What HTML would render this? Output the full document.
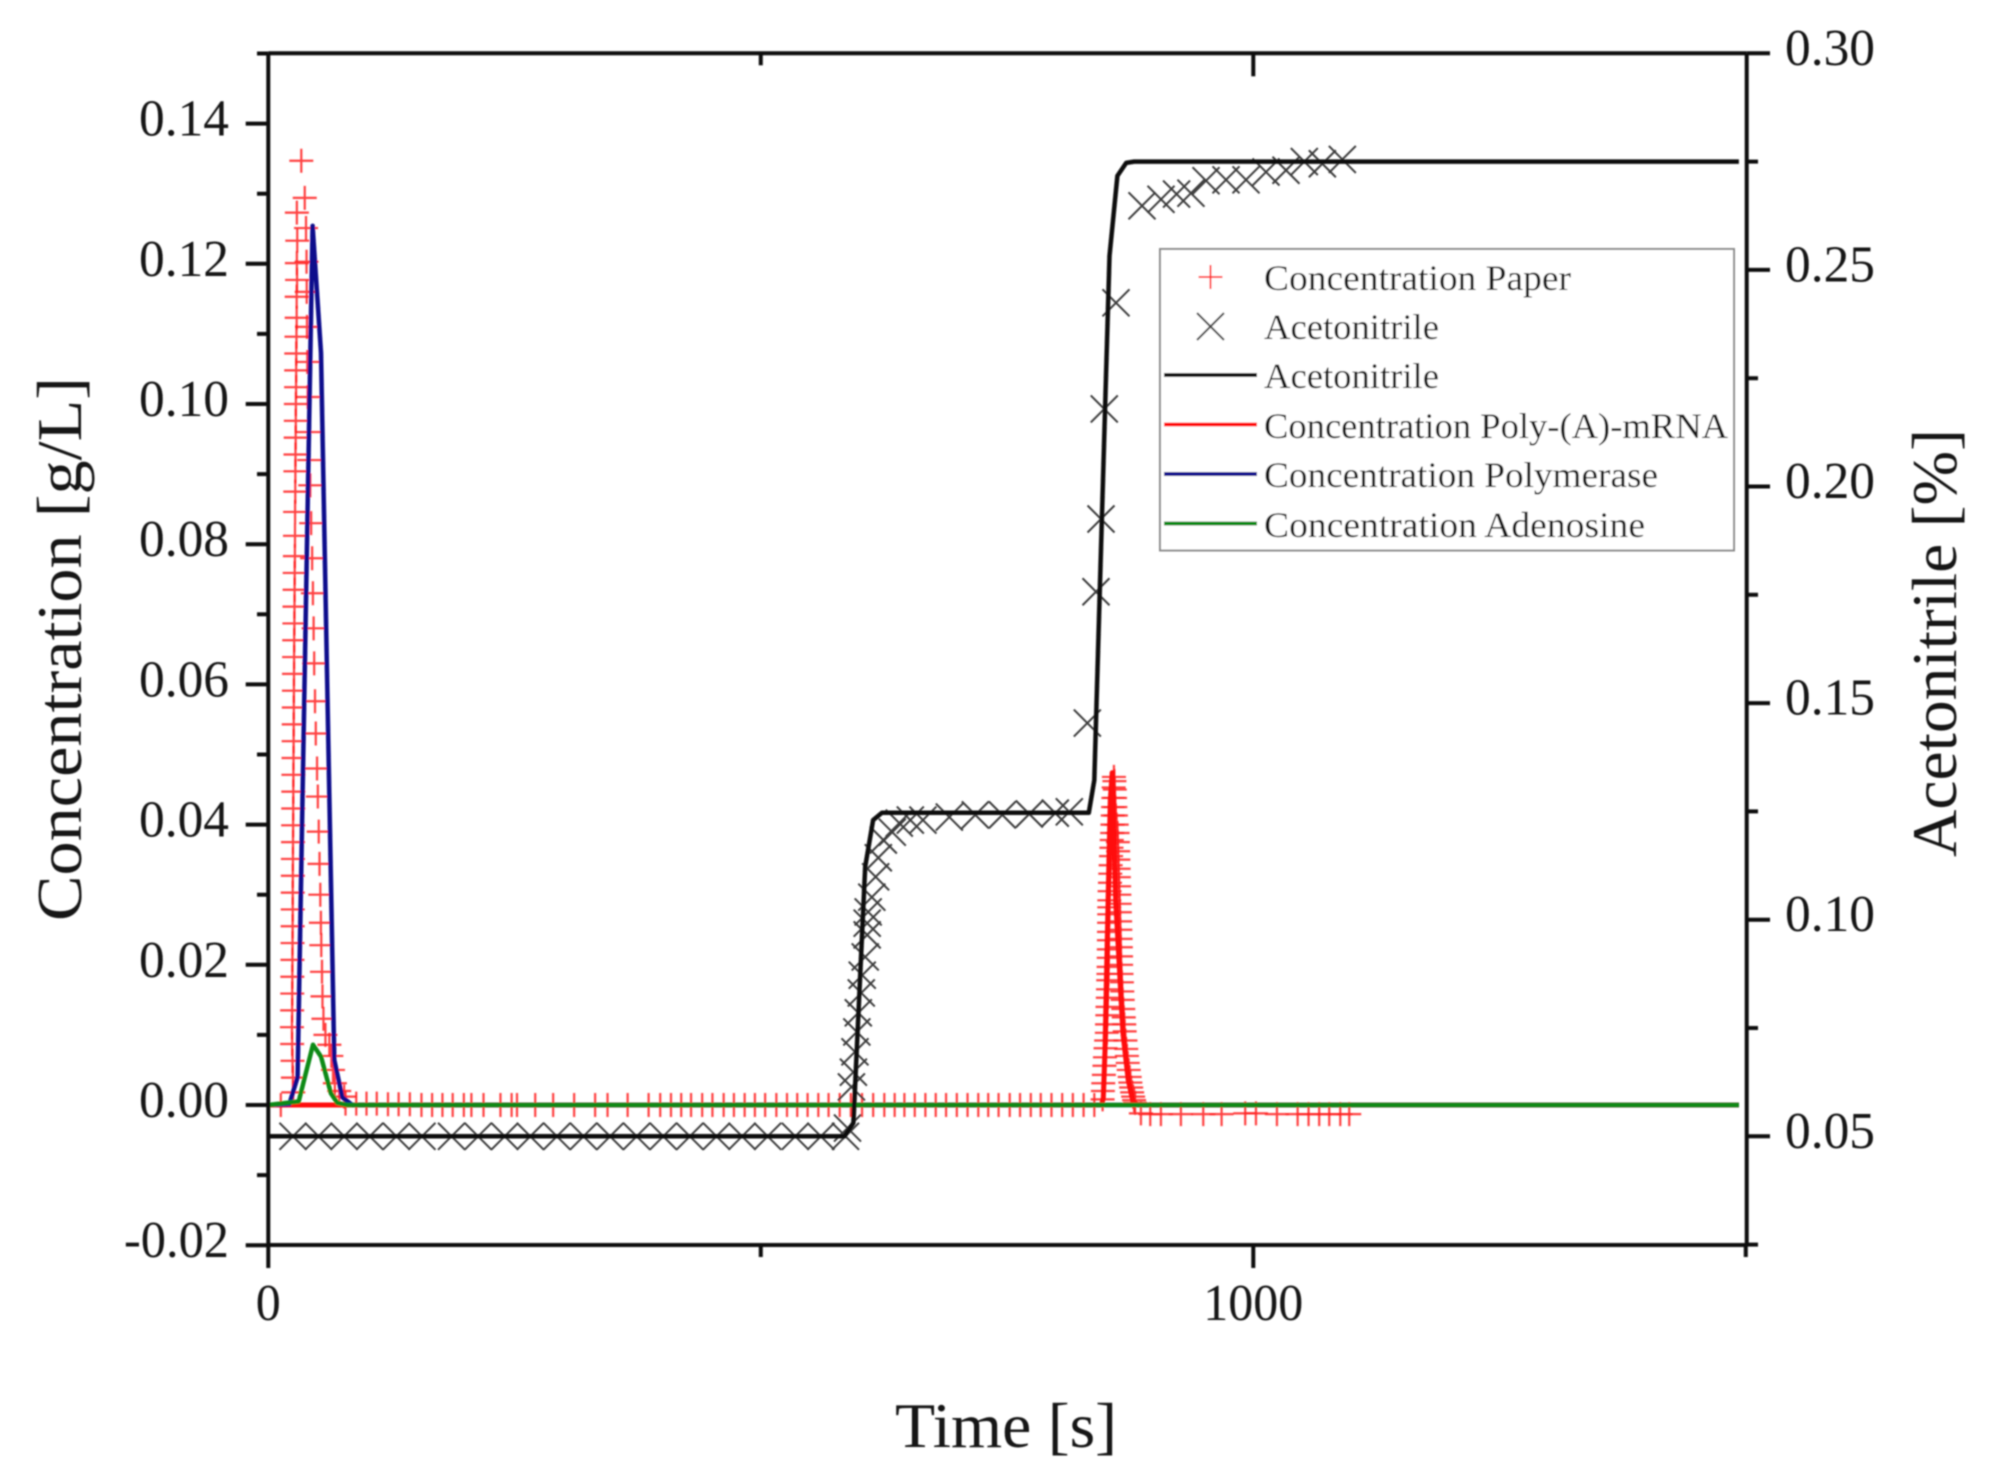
<!DOCTYPE html>
<html lang="en">
<head>
<meta charset="utf-8">
<title>Concentration and Acetonitrile over Time</title>
<style>
html,body{margin:0;padding:0;background:#fff;width:1992px;height:1482px;overflow:hidden}
svg{display:block}
text{font-family:"Liberation Serif",serif;fill:#151515}
</style>
</head>
<body>
<svg id="chart" xmlns="http://www.w3.org/2000/svg" width="1992" height="1482" viewBox="0 0 1992 1482">
  <defs><filter id="soft" x="0" y="0" width="100%" height="100%"><feGaussianBlur stdDeviation="0.8"/></filter></defs>
  <rect x="0" y="0" width="1992" height="1482" fill="#fff"/>
  <g filter="url(#soft)">
    <g id="marks"></g>
    <g id="axes"></g>
    <text x="895" y="1447" font-size="64" textLength="222" lengthAdjust="spacingAndGlyphs">Time [s]</text>
    <text transform="translate(81,921) rotate(-90)" font-size="64" textLength="544" lengthAdjust="spacingAndGlyphs">Concentration [g/L]</text>
    <text transform="translate(1956,857) rotate(-90)" font-size="64" textLength="428" lengthAdjust="spacingAndGlyphs">Acetonitrile [%]</text>
    <g>
      <rect x="1160" y="249" width="574" height="301.500" fill="#fff" stroke="#8a8a8a" stroke-width="2"/>
      <g>
        <path d="M1198.500 277H1222.500M1210.500 265V289" stroke="#ff3030" stroke-width="2" fill="none"/>
        <text x="1264" y="290" font-size="36" textLength="307" lengthAdjust="spacingAndGlyphs">Concentration Paper</text>
      </g>
      <g>
        <path d="M1197 313L1224 340M1224 313L1197 340" stroke="#444" stroke-width="2" fill="none"/>
        <text x="1264" y="339" font-size="36" textLength="175" lengthAdjust="spacingAndGlyphs">Acetonitrile</text>
      </g>
      <g>
        <path d="M1164 375H1257" stroke="#111" stroke-width="4" fill="none"/>
        <text x="1264" y="388" font-size="36" textLength="175" lengthAdjust="spacingAndGlyphs">Acetonitrile</text>
      </g>
      <g>
        <path d="M1164 424.500H1257" stroke="#ff0a0a" stroke-width="4" fill="none"/>
        <text x="1264" y="438" font-size="36" textLength="464" lengthAdjust="spacingAndGlyphs">Concentration Poly-(A)-mRNA</text>
      </g>
      <g>
        <path d="M1164 474H1257" stroke="#0a0a8c" stroke-width="4" fill="none"/>
        <text x="1264" y="487" font-size="36" textLength="394" lengthAdjust="spacingAndGlyphs">Concentration Polymerase</text>
      </g>
      <g>
        <path d="M1164 523.500H1257" stroke="#0a8a14" stroke-width="4" fill="none"/>
        <text x="1264" y="537" font-size="36" textLength="381" lengthAdjust="spacingAndGlyphs">Concentration Adenosine</text>
      </g>
    </g>
  </g>
</svg>
<script>
// Axis tick labels
const leftTickLabels = ['-0.02','0.00','0.02','0.04','0.06','0.08','0.10','0.12','0.14'];
const rightTickLabels = ['0.05','0.10','0.15','0.20','0.25','0.30'];
const xTickLabels = ['0','1000'];

// Simulated acetonitrile (right axis)
const acnLineTime = [0,585,594,606,614,623,833,838.6,854,862,871,879,1493];
const acnLineValue = [0.05,0.05,0.0531,0.1122,0.123,0.1247,0.1247,0.1322,0.2532,0.2717,0.2747,0.275,0.275];

// Measured acetonitrile markers (right axis)
const acnMarkTime = [25,51,77,103,130,156,186,213,240,266,293,320,347,374,401,428,455,481,507,535,561,586,588,592,594,595.6,597.5,599,602,603,606,608,608,609,612.7,616.6,619.3,624.4,633.5,640.6,651.8,664.6,691.4,717.8,745.2,772.6,799,813.2,831.5,840.3,845.4,848.7,860.6,887,906.3,922.1,936.7,952,972.3,992.6,1012.9,1033.2,1051.8,1070.1,1090.4];
const acnMarkValue = [0.05,0.05,0.05,0.05,0.05,0.05,0.05,0.05,0.05,0.05,0.05,0.05,0.05,0.05,0.05,0.05,0.05,0.05,0.05,0.05,0.05,0.05,0.0519,0.0614,0.0648,0.0695,0.0741,0.0785,0.0831,0.0872,0.0914,0.0965,0.0992,0.1018,0.1052,0.1099,0.1143,0.1184,0.1202,0.1223,0.123,0.123,0.1237,0.1242,0.1242,0.1244,0.1246,0.1249,0.1454,0.1757,0.1925,0.2179,0.2424,0.2648,0.2663,0.2675,0.2677,0.2706,0.2708,0.2708,0.2726,0.273,0.275,0.2745,0.2755];

// Paper concentration markers (left axis)
const paperPeak1Time = [33.5,37,38.3,38.8,39,39.3,39.6,40,40.8,41.5,42.6,43.5,44.5,45.3,46,46.6,47.4,48.2,49.5,50.3,51.2,52,52.8,53.4,53.8,54.5,55,56,58,62,64,65.7,67.6,72,77,29,29.4,29,29.2,28.8,28.8,28.6,28.4,28.3,28.2,28,27.9,27.8,27.6,27.5,27.4,27.2,27.1,27,26.8,26.7,26.6,26.5,26.3,26.2,26.1,26,25.9,25.8,25.7,25.6,25.5,25.4,25.3,25.2,25.1,25,24.9,24.8,24.8,24.7,24.6,24.5,24.4,24.3,24.2,24];
const paperPeak1Value = [0.1347,0.1294,0.1251,0.1203,0.116,0.111,0.106,0.101,0.096,0.092,0.0884,0.083,0.078,0.073,0.068,0.063,0.0576,0.053,0.048,0.044,0.039,0.0344,0.03,0.026,0.0228,0.019,0.0155,0.0123,0.01,0.0086,0.007,0.005,0.0031,0.002,0.0012,0.1273,0.1233,0.1201,0.1177,0.1153,0.1123,0.1096,0.1072,0.1048,0.1024,0.1,0.0976,0.0952,0.0928,0.0904,0.0875,0.0846,0.0812,0.0783,0.0759,0.0735,0.0711,0.0687,0.0663,0.0639,0.0615,0.0591,0.0567,0.0543,0.0519,0.0495,0.0471,0.0447,0.0423,0.0399,0.0375,0.0351,0.0327,0.0303,0.0279,0.0255,0.0231,0.0207,0.0183,0.0159,0.0135,0.0111];
const paperLowTime = [24.2,24.6,25,25.3,12.7,78.4,89.3,99.7,110.1,121.5,132.3,143.7,155.5,166.3,176.8,187.2,198.5,206.2,218.5,235.7,247,252.5,271,289.2,310.5,331.8,344.4,364.8,386.1,397.9,408.8,419.2,429.2,440.5,450.9,462.3,472.7,483.6,494,504.4,515.8,526.6,537,547.5,558.4,568.8,580.1,591.4,602.8,614.1,625.4,635.9,645.8,656.3,667.1,677.6,688.1,699,709.9,720.8,730.9,741.4,752.7,763.2,774.1,784.2,795.1,806,816.8,827.7,838.6];
const paperLowValue = [0.0087,0.0063,0.0039,0.0018,0,0.0002,0.0002,0.0002,0.0002,0.0001,0.0001,0.0001,0,0,0,0,0,0,0,0,0,0,0,0,0,0,0,0,0,0,0,0,0,0,0,0,0,0,0,0,0,0,0,0,0,0,0,0,0,0,0,0,0,0,0,0,0,0,0,0,0,0,0,0,0,0,0,0,0,0,0];
const paperPeak2RiseTime = [847,847.3,847.7,848.3,848.9,849.4,850,850.6,851.3,851.5,851.8,852,852.3,852.5,852.7,852.9,853.1,853.2,853.3,853.4,853.5,853.6,853.7,853.75,853.8,854.1,854.5,854.8,855.2,855.6,856,856.3,856.7,857,857.3,857.6,857.9,858.2,858.5];
const paperPeak2RiseValue = [0.0008,0.002,0.0031,0.0043,0.0056,0.0068,0.0081,0.0092,0.0103,0.0115,0.0128,0.014,0.0153,0.0165,0.0178,0.0187,0.0197,0.021,0.0222,0.0235,0.0247,0.026,0.0272,0.0282,0.0292,0.0305,0.0317,0.033,0.0342,0.0355,0.0367,0.0378,0.0388,0.04,0.0413,0.0425,0.0438,0.0453,0.0468];
const paperPeak2FallTime = [859,859.4,859.7,860,860.5,861.3,862.2,862.5,862.8,863,863.3,863.5,863.8,864,864.3,864.5,864.8,865,865.3,865.5,865.7,865.8,866.2,866.6,867,867.4,868,868.5,869,869.4,870.2,871,871.7,872.5,873.5,874.5,875.2,876,877,878,879,880];
const paperPeak2FallValue = [0.0462,0.045,0.0438,0.0425,0.0413,0.04,0.0388,0.0375,0.0362,0.035,0.0337,0.0325,0.0312,0.03,0.0287,0.0275,0.0262,0.025,0.0237,0.0225,0.0212,0.02,0.0187,0.0175,0.0162,0.015,0.0137,0.0125,0.0115,0.0105,0.0092,0.008,0.007,0.006,0.005,0.004,0.0032,0.0025,0.0018,0.0012,0.0007,0.0003];
const paperTailTime = [885.9,895.4,906.2,926.5,949.2,967.8,991.8,1002.7,1024,1045,1056.1,1066.9,1077.1,1088.3,1097.4];
const paperTailValue = [-0.0012,-0.0013,-0.0013,-0.0013,-0.0013,-0.0013,-0.0012,-0.0012,-0.0013,-0.0013,-0.0013,-0.0013,-0.0013,-0.0013,-0.0013];

// Simulated concentrations (left axis)
const mrnaTime = [0,846,847.7,849.4,851.2,853,854.8,856.8,860.3,867.6,873,878,884,1493];
const mrnaValue = [0,0,0.001,0.0078,0.0197,0.0317,0.0435,0.0474,0.0292,0.0103,0.0036,0.0004,0,0];
const polymeraseTime = [0,21.3,29.7,45,53.5,67,75.1,85.3,1493];
const polymeraseValue = [0,0.0001,0.004,0.1254,0.1073,0.0064,0.0011,0,0];
const adenosineTime = [0,30.9,45.4,53.5,63.5,70,80,1493];
const adenosineValue = [0,0.0005,0.0086,0.0069,0.0017,0.0003,0,0];

const SVGNS = 'http://www.w3.org/2000/svg';
const xScale = t => 268.3 + t * 0.985;
const yLeft = c => 1105 - c * 7010;
const yRight = v => 53.3 + (0.30 - v) * 4332;
const marks = document.getElementById('marks');
const axes = document.getElementById('axes');

function make(tag, parent, attrs, text) {
  const el = document.createElementNS(SVGNS, tag);
  for (const k in attrs) el.setAttribute(k, attrs[k]);
  if (text !== undefined) el.textContent = text;
  parent.appendChild(el);
  return el;
}

function drawPlus(group, times, values, name) {
  times.forEach((t, i) => {
    const x = xScale(t), y = yLeft(values[i]);
    const p = make('path', group, {d: 'M' + (x - 12) + ' ' + y + 'H' + (x + 12) + 'M' + x + ' ' + (y - 12) + 'V' + (y + 12)});
    
    
  });
}

const paperGroup = make('g', marks, {fill: 'none', stroke: '#ff2020', 'stroke-width': 2.2, 'stroke-opacity': 0.85});


drawPlus(paperGroup, paperPeak1Time, paperPeak1Value, 'paper-marker-peak-1');
drawPlus(paperGroup, paperLowTime, paperLowValue, 'paper-marker-baseline');
drawPlus(paperGroup, paperPeak2RiseTime, paperPeak2RiseValue, 'paper-marker-peak-2-rise');
drawPlus(paperGroup, paperPeak2FallTime, paperPeak2FallValue, 'paper-marker-peak-2-fall');
drawPlus(paperGroup, paperTailTime, paperTailValue, 'paper-marker-tail');

const acnGroup = make('g', marks, {fill: 'none', stroke: '#3c3c3c', 'stroke-width': 2});


acnMarkTime.forEach((t, i) => {
  const x = xScale(t), y = yRight(acnMarkValue[i]), s = 13.5;
  const p = make('path', acnGroup, {d: 'M' + (x - s) + ' ' + (y - s) + 'L' + (x + s) + ' ' + (y + s) + 'M' + (x + s) + ' ' + (y - s) + 'L' + (x - s) + ' ' + (y + s)});
  
  
});

function linePoints(times, values, yFn) {
  return times.map((t, i) => xScale(t).toFixed(1) + ',' + yFn(values[i]).toFixed(1)).join(' ');
}
const mrnaLine = make('polyline', marks, {points: linePoints(mrnaTime, mrnaValue, yLeft), fill: 'none', stroke: '#ff0a0a', 'stroke-width': 5, 'stroke-linejoin': 'round'});


const polyLine = make('polyline', marks, {points: linePoints(polymeraseTime, polymeraseValue, yLeft), fill: 'none', stroke: '#0a0a8c', 'stroke-width': 4.5, 'stroke-linejoin': 'round'});


const adenLine = make('polyline', marks, {points: linePoints(adenosineTime, adenosineValue, yLeft), fill: 'none', stroke: '#0a8a14', 'stroke-width': 4.5, 'stroke-linejoin': 'round'});


const acnLine = make('polyline', marks, {points: linePoints(acnLineTime, acnLineValue, yRight), fill: 'none', stroke: '#0c0c0c', 'stroke-width': 4.5, 'stroke-linejoin': 'round'});



// Axes and frame
const axisGroup = make('g', axes, {fill: 'none', stroke: '#0c0c0c', 'stroke-width': 4});


const frame = make('path', axisGroup, {d: 'M268.3 53.3H1746.700M268.3 1245H1746.700M268.3 53.3V1245M1746.700 53.3V1245'});



// Left axis ticks every 0.01
for (let k = -2; k <= 15; k++) {
  const y = yLeft(k / 100), major = k % 2 === 0;
  const t = make('path', axisGroup, {d: 'M268.3 ' + y + 'H' + (major ? 245.7 : 257)});
  
  
}
// Right axis ticks every 0.025
for (let k = 1; k <= 12; k++) {
  const y = yRight(k * 0.025), major = k % 2 === 0;
  const t = make('path', axisGroup, {d: 'M1746.700 ' + y + 'H' + (major ? 1770 : 1758)});
  
  
}
// X axis ticks every 500 (bottom outward, top inward)
for (let k = 0; k <= 3; k++) {
  const x = xScale(k * 500), major = k % 2 === 0, len = major ? 23 : 12;
  const b = make('path', axisGroup, {d: 'M' + x + ' 1245V' + (1245 + len)});
  
  
  if (k > 0 && k < 3) {
    const u = make('path', axisGroup, {d: 'M' + x + ' 53.3V' + (53.3 + len)});
    
    
  }
}

// Tick labels
leftTickLabels.forEach(label => {
  const y = yLeft(parseFloat(label)) + 12;
  const w = label.startsWith('-') ? 105 : 90;
  const el = make('text', axes, {x: 229 - w, y: y, 'font-size': 52, textLength: w, lengthAdjust: 'spacingAndGlyphs'}, label);
  
  
});
rightTickLabels.forEach(label => {
  const y = yRight(parseFloat(label)) + 11.5;
  const el = make('text', axes, {x: 1785, y: y, 'font-size': 52, textLength: 90, lengthAdjust: 'spacingAndGlyphs'}, label);
  
  
});
xTickLabels.forEach(label => {
  const w = label.length === 1 ? 25 : 100;
  const el = make('text', axes, {x: xScale(parseFloat(label)) - w / 2, y: 1320, 'font-size': 52, textLength: w, lengthAdjust: 'spacingAndGlyphs'}, label);
  
  
});
</script>
</body>
</html>
